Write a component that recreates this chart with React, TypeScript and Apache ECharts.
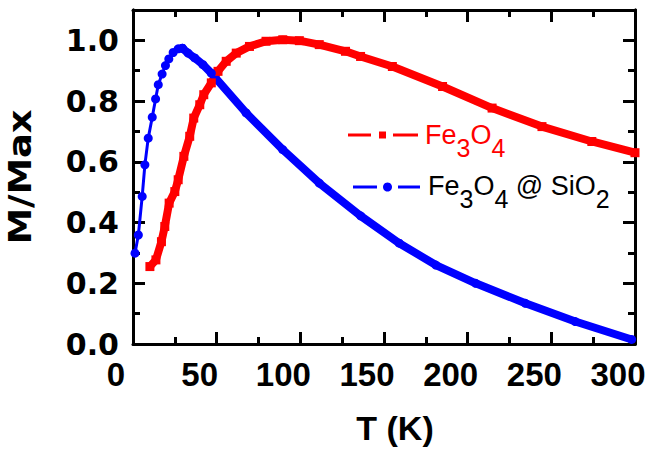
import React, { useEffect, useRef } from "react";
import * as echarts from "echarts";

// Fe3O4 (red squares)
const redT = [10.1, 13.7, 17, 19, 21.6, 25, 27, 30.4, 33.9, 36.3, 39.9, 42.3, 46.8, 50.8, 55.7, 61.7, 69.6, 79.5, 89.5, 99.4, 111.3, 127, 136, 155, 185, 214.6, 244.4, 274.2, 300];
const redV = [0.255, 0.277, 0.337, 0.387, 0.464, 0.502, 0.541, 0.618, 0.684, 0.744, 0.788, 0.821, 0.86, 0.898, 0.931, 0.958, 0.98, 0.997, 1.002, 0.999, 0.986, 0.964, 0.947, 0.914, 0.848, 0.777, 0.716, 0.667, 0.63];

// Fe3O4 @ SiO2 (blue circles) — rising part and falling part
const blueRiseT = [1.2, 3.2, 5.5, 7.1, 9.1, 11.5, 13.5, 15.1, 17.4, 19.4, 21.4, 24, 27, 29.5];
const blueRiseV = [0.299, 0.359, 0.486, 0.59, 0.678, 0.747, 0.807, 0.854, 0.889, 0.917, 0.939, 0.96, 0.972, 0.974];
const blueFallT = [29.5, 32.9, 36.9, 41.8, 46.8, 67.6, 89.5, 111.3, 136, 159.1, 181, 204.8, 234.5, 264.3, 298];
const blueFallV = [0.974, 0.958, 0.942, 0.92, 0.892, 0.761, 0.64, 0.53, 0.422, 0.332, 0.26, 0.2, 0.134, 0.074, 0.015];

const xName = "T (K)";
const yName = "M/Max";

const RED = "#ff0000";
const BLUE = "#0000ff";
const BLACK = "#000000";

const pairs = (t: number[], v: number[]) => t.map((x, i) => [x, v[i]]);

const axisLineStyle = { show: true, onZero: false, lineStyle: { color: BLACK, width: 3 } };

export default function App() {
  const ref = useRef<HTMLDivElement>(null);
  useEffect(() => {
    document.body.style.margin = "0";
    const chart = echarts.init(ref.current!, null, { renderer: "svg" });
    const xBase = {
      type: "value",
      min: 0,
      max: 300,
      interval: 50,
      axisLine: axisLineStyle,
      axisTick: { show: true, inside: true, length: 12, lineStyle: { color: BLACK, width: 3 } },
      minorTick: { show: true, splitNumber: 2, length: 7, lineStyle: { color: BLACK, width: 3 } },
      splitLine: { show: false },
      minorSplitLine: { show: false },
    };
    const yMajor = {
      type: "value",
      min: 0,
      max: 1.1,
      interval: 0.2,
      offset: 0,
      axisLine: axisLineStyle,
      axisTick: { show: true, inside: true, length: 12, lineStyle: { color: BLACK, width: 3 } },
      splitLine: { show: false },
    };
    const yMinor = {
      type: "value",
      min: 0,
      max: 1.1,
      interval: 0.1,
      offset: 0,
      axisLine: axisLineStyle,
      axisTick: { show: true, inside: true, length: 7, lineStyle: { color: BLACK, width: 3 } },
      axisLabel: { show: false },
      splitLine: { show: false },
    };
    const legendText = (color: string) => ({
      n: { fontSize: 27, fontFamily: "Liberation Sans", lineHeight: 30, verticalAlign: "top", fill: color, color },
      s: { fontSize: 25, fontFamily: "Liberation Sans", lineHeight: 39, verticalAlign: "bottom", fill: color, color },
    });
    chart.setOption({
      animation: false,
      grid: { left: 133, right: 21, top: 10, bottom: 113, containLabel: false },
      xAxis: [
        {
          ...xBase,
          position: "bottom",
          axisLabel: {
            show: true,
            color: BLACK,
            fontSize: 33,
            fontWeight: "bold",
            fontFamily: "Liberation Sans",
            margin: 14,
            padding: [0, 34, 0, 0],
          },
        },
        { ...xBase, position: "top", axisLabel: { show: false } },
      ],
      yAxis: [
        {
          ...yMajor,
          position: "left",
          axisLabel: {
            show: true,
            showMaxLabel: false,
            color: BLACK,
            fontSize: 30,
            lineHeight: 26,
            fontWeight: "bold",
            fontFamily: "DejaVu Sans",
            margin: 14,
            formatter: (v: number) => (v > 1.05 ? "" : v.toFixed(1)),
          },
        },
        { ...yMinor, position: "left" },
        { ...yMajor, position: "right", axisLabel: { show: false } },
        { ...yMinor, position: "right" },
      ],
      series: [
        {
          name: "Fe3O4",
          type: "line",
          data: pairs(redT, redV),
          symbol: "rect",
          symbolSize: 9,
          lineStyle: { color: RED, width: 8 },
          itemStyle: { color: RED },
          xAxisIndex: 0,
          yAxisIndex: 0,
        },
        {
          name: "Fe3O4 @ SiO2 rise",
          type: "line",
          data: pairs(blueRiseT, blueRiseV),
          symbol: "circle",
          symbolSize: 9,
          lineStyle: { color: BLUE, width: 3 },
          itemStyle: { color: BLUE },
          xAxisIndex: 0,
          yAxisIndex: 0,
        },
        {
          name: "Fe3O4 @ SiO2 fall",
          type: "line",
          data: pairs(blueFallT, blueFallV),
          symbol: "circle",
          symbolSize: 9,
          lineStyle: { color: BLUE, width: 8 },
          itemStyle: { color: BLUE },
          xAxisIndex: 0,
          yAxisIndex: 0,
        },
      ],
      graphic: [
        {
          type: "text",
          x: 395,
          y: 428,
          style: {
            text: xName,
            font: 'bold 34px "Liberation Sans"',
            fill: BLACK,
            align: "center",
            verticalAlign: "middle",
          },
        },
        {
          type: "text",
          x: 20,
          y: 177,
          rotation: Math.PI / 2,
          scaleX: 1.15,
          style: {
            text: yName,
            font: 'bold 32px "DejaVu Sans"',
            fill: BLACK,
            align: "center",
            verticalAlign: "middle",
          },
        },
        // legend: Fe3O4
        { type: "line", shape: { x1: 348, y1: 135, x2: 371, y2: 135 }, style: { stroke: RED, lineWidth: 3 } },
        { type: "rect", shape: { x: 379, y: 131.5, width: 7, height: 7 }, style: { fill: RED } },
        { type: "line", shape: { x1: 393, y1: 135, x2: 418, y2: 135 }, style: { stroke: RED, lineWidth: 3 } },
        {
          type: "text",
          x: 425,
          y: 121,
          style: {
            text: "{n|Fe}{s|3}{n|O}{s|4}",
            rich: legendText(RED),
            align: "left",
            verticalAlign: "top",
          },
        },
        // legend: Fe3O4 @ SiO2
        { type: "line", shape: { x1: 353, y1: 187, x2: 377, y2: 187 }, style: { stroke: BLUE, lineWidth: 3 } },
        { type: "circle", shape: { cx: 387.5, cy: 187, r: 4.5 }, style: { fill: BLUE } },
        { type: "line", shape: { x1: 398, y1: 187, x2: 420, y2: 187 }, style: { stroke: BLUE, lineWidth: 3 } },
        {
          type: "text",
          x: 428,
          y: 172.5,
          style: {
            text: "{n|Fe}{s|3}{n|O}{s|4}{n| @ Si}{n|O}{s|2}",
            rich: legendText(BLACK),
            align: "left",
            verticalAlign: "top",
          },
        },
      ],
    });
    return () => chart.dispose();
  }, []);
  return <div ref={ref} style={{ width: 656, height: 457 }} />;
}
